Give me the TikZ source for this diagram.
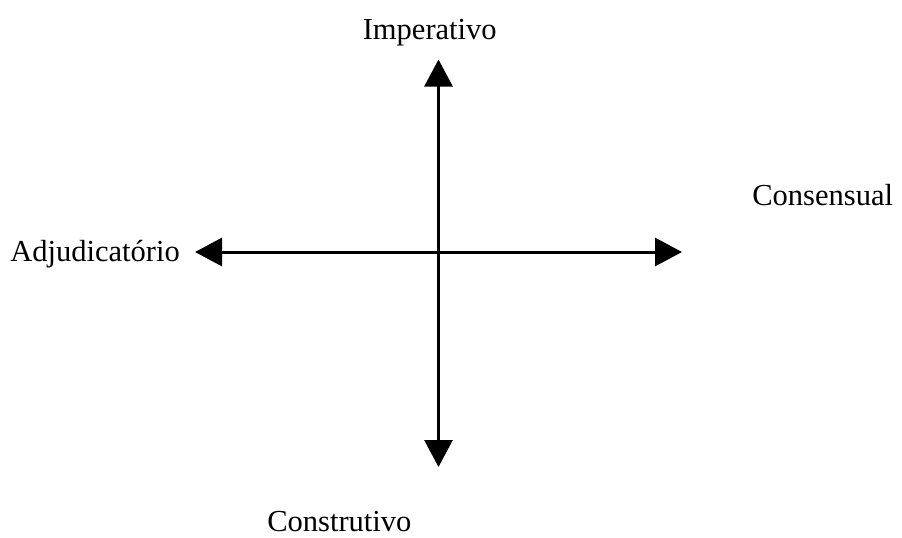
\documentclass[tikz,border=0pt]{standalone}
\usepackage{fontspec}
\setmainfont{Liberation Serif}
\usetikzlibrary{arrows.meta}
\begin{document}
\begin{tikzpicture}[x=0.75pt,y=-0.75pt,
  lbl/.style={inner sep=0pt,anchor=base west,font=\fontsize{22.9}{27}\selectfont},
  axis/.style={line width=2.25pt,{Triangle[length=20.25pt,width=21pt]}-{Triangle[length=20.25pt,width=21pt]}}]
\useasboundingbox (0,0) rectangle (902,537);
\coordinate (top) at (438.5,59.5);
\coordinate (bot) at (438.5,467);
\coordinate (lft) at (195,252);
\coordinate (rgt) at (682,252);
\draw[axis] (top) -- (bot);
\draw[axis] (lft) -- (rgt);
\node[lbl] (imp) at (362.5,39.5) {Imperativo};
\node[lbl] (con) at (752,205) {Consensual};
\node[lbl] (adj) at (10,261) {Adjudicatório};
\node[lbl] (cst) at (267,531) {Construtivo};
\end{tikzpicture}
\end{document}
